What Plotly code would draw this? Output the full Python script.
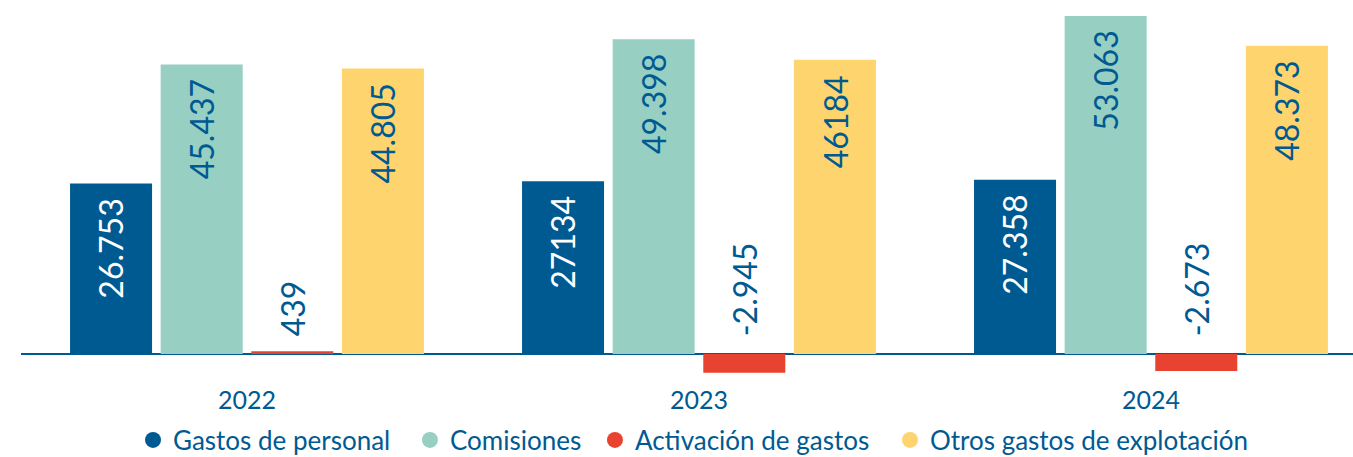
import plotly.graph_objects as go

years = ["2022", "2023", "2024"]
series_names = ["Gastos de personal", "Comisiones", "Activación de gastos", "Otros gastos de explotación"]
gastos_personal = [26753, 27134, 27358]
comisiones = [45437, 49398, 53063]
activacion = [439, -2945, -2673]
otros = [44805, 46184, 48373]
labels_personal = ["26.753", "27134", "27.358"]
labels_comisiones = ["45.437", "49.398", "53.063"]
labels_activacion = ["439", "-2.945", "-2.673"]
labels_otros = ["44.805", "46184", "48.373"]

colors = ["#005a92", "#97cfc2", "#e84330", "#fed46e"]
dark = "#005a92"
FONT = "Lato"
LABEL_SIZE = 32
BARGAP = 0.198
GROUPGAP = 0.095

fig = go.Figure()

values = [gastos_personal, comisiones, activacion, otros]
labels = [labels_personal, labels_comisiones, labels_activacion, labels_otros]
text_colors = ["white", dark, dark, dark]

for i, (name, vals) in enumerate(zip(series_names, values)):
    fig.add_trace(go.Bar(
        x=years, y=vals, name=name, showlegend=False,
        marker=dict(color=colors[i], line=dict(width=0)),
        hoverinfo="skip",
    ))

# value labels (rotated), placed from each bar's own slot in the group
slot = (1 - BARGAP) / 4
for i, (vals, labs) in enumerate(zip(values, labels)):
    for k, (v, lab) in enumerate(zip(vals, labs)):
        xpos = k + (i - 1.5) * slot
        if i == 2:
            # small / negative bars: label sits above the zero line
            fig.add_annotation(x=xpos, xref="x", y=0, yref="y",
                               yanchor="bottom", xanchor="center", yshift=16,
                               text=lab, textangle=-90, showarrow=False,
                               font=dict(family=FONT, size=LABEL_SIZE, color=text_colors[i]))
        else:
            fig.add_annotation(x=xpos, xref="x", y=v, yref="y",
                               yanchor="top", xanchor="center", yshift=-13,
                               text=lab, textangle=-90, showarrow=False,
                               font=dict(family=FONT, size=LABEL_SIZE, color=text_colors[i]))

# legend entries with round markers (one legend per entry to reproduce spacing)
legend_x = [0.0841, 0.2920, 0.4309, 0.6524]
legend_ids = ["legend", "legend2", "legend3", "legend4"]
for i, name in enumerate(series_names):
    fig.add_trace(go.Scatter(
        x=[None], y=[None], mode="markers", name=name, legend=legend_ids[i],
        marker=dict(symbol="circle", size=16, color=colors[i]),
    ))

legend_common = dict(orientation="h", xanchor="left", y=-0.1579, yanchor="middle",
                     font=dict(family=FONT, size=26, color=dark),
                     bgcolor="rgba(0,0,0,0)", borderwidth=0)

fig.update_layout(
    width=1353, height=457,
    margin=dict(l=21, r=0, t=0, b=77, autoexpand=False),
    barmode="group", bargap=BARGAP, bargroupgap=GROUPGAP,
    plot_bgcolor="white", paper_bgcolor="white",
    font=dict(family=FONT, color=dark, size=26),
    legend=dict(x=legend_x[0], **legend_common),
    legend2=dict(x=legend_x[1], **legend_common),
    legend3=dict(x=legend_x[2], **legend_common),
    legend4=dict(x=legend_x[3], **legend_common),
    xaxis=dict(range=[-0.5, 2.447], showgrid=False, showline=False, ticks="",
               ticklabelstandoff=3,
               tickfont=dict(family=FONT, size=25, color=dark)),
    yaxis=dict(range=[-4082, 55573], showgrid=False, showticklabels=False,
               zeroline=True, zerolinecolor=dark, zerolinewidth=1.5),
)

fig.write_html("out.html", config={"displayModeBar": False},
               post_script="document.body.style.margin='0';document.body.style.overflow='hidden';")
